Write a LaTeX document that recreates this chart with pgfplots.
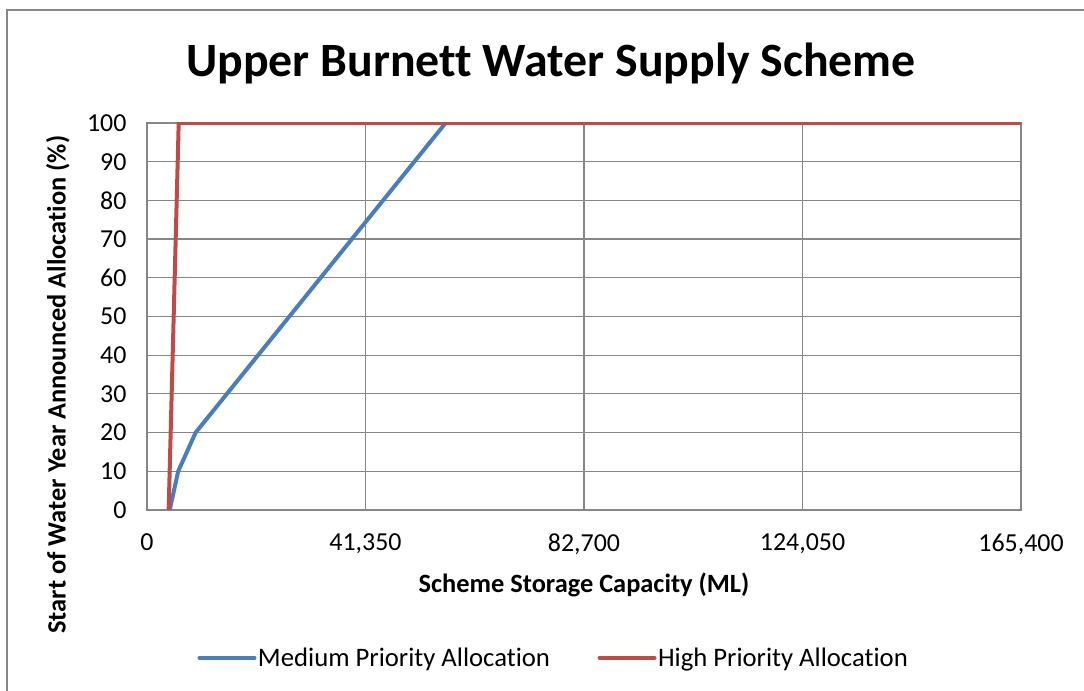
\documentclass[border=0pt]{standalone}
\usepackage{pgfplots}
\pgfplotsset{compat=1.18}
\usepackage{fontspec}
\setmainfont{Carlito}[Ligatures=CommonOff]
\definecolor{medblue}{HTML}{4A7EBB}
\definecolor{highred}{HTML}{BE4B48}
\definecolor{gridgray}{HTML}{878787}
\begin{document}
\begin{tikzpicture}[x=1bp,y=1bp]
\useasboundingbox (0,0) rectangle (1084,691);
\draw[gridgray, line width=1.2bp] (7,0) -- (7,681) -- (1084,681);
\node[font=\fontsize{48}{54}\selectfont\bfseries] at (551,628) {Upper Burnett Water Supply Scheme};
\begin{axis}[
  at={(147bp,181bp)}, anchor=south west,
  scale only axis, width=874bp, height=387bp,
  xmin=0, xmax=165400, ymin=0, ymax=100,
  xtick={0,41350,82700,124050,165400},
  ytick={0,10,...,100},
  scaled x ticks=false,
  /pgf/number format/assume math mode=true,
  xticklabel style={/pgf/number format/1000 sep={,}, /pgf/number format/fixed, /pgf/number format/precision=0, yshift=-20bp},
  yticklabel style={xshift=-17bp},
  tick label style={font=\fontsize{26}{30}\selectfont},
  major tick length=0pt,
  grid=major,
  major grid style={gridgray, line width=1.2bp},
  axis line style={gridgray, line width=1.2bp},
  xlabel={Scheme Storage Capacity (ML)},
  ylabel={Start of Water Year Announced Allocation (\%)},
  label style={font=\fontsize{26.5}{30}\selectfont\bfseries},
  xlabel style={at={(axis description cs:0.500,-0.194)}, anchor=center},
  ylabel style={at={(axis description cs:-0.102,0.324)}, anchor=center, rotate=0},
  legend columns=2,
  legend style={at={(axis description cs:0.465,-0.382)}, anchor=center, draw=none, fill=none,
    font=\fontsize{26.8}{30}\selectfont, nodes={inner sep=1.5bp},
    /tikz/every even column/.append style={column sep=46bp}},
  legend image code/.code={\draw[#1, line width=4bp, line cap=round] (0bp,0bp) -- (55bp,0bp);},
]
\addplot[medblue, line width=4bp] coordinates {(4300,0) (5900,10) (9200,20) (56500,100) (165400,100)};
\addlegendentry{Medium Priority Allocation}
\addplot[highred, line width=4bp] coordinates {(4100,0) (6000,100) (165400,100)};
\addlegendentry{High Priority Allocation}
\end{axis}
\end{tikzpicture}
\end{document}
